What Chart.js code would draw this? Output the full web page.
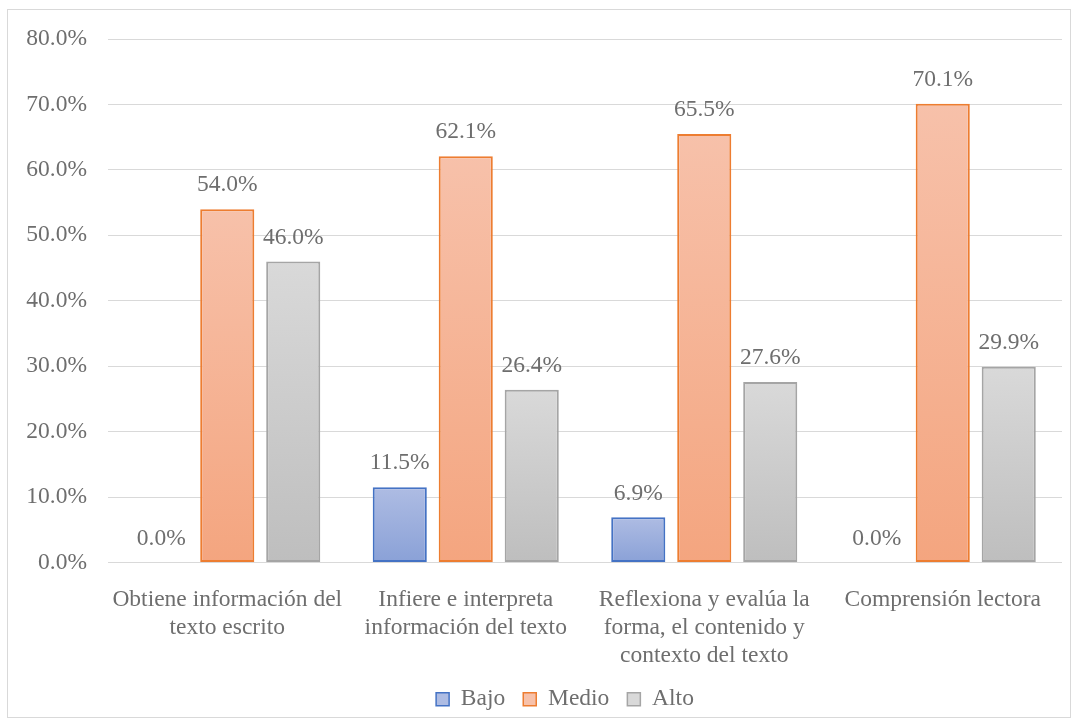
<!DOCTYPE html>
<html>
<head>
<meta charset="utf-8">
<script src="https://cdn.jsdelivr.net/npm/chart.js@4/dist/chart.umd.min.js"></script>
<style>
  html, body { margin: 0; padding: 0; background: #fff; }
  #wrap { position: relative; width: 1078px; height: 728px; }
</style>
</head>
<body>
<div id="wrap"><canvas id="nivelesChart" width="1078" height="728"></canvas></div>
<script>
const categories = [
    ['Obtiene información del', 'texto escrito'],
    ['Infiere e interpreta', 'información del texto'],
    ['Reflexiona y evalúa la', 'forma, el contenido y', 'contexto del texto'],
    ['Comprensión lectora']
]
const bajo = [0.0, 11.5, 6.9, 0.0]
const medio = [54.0, 62.1, 65.5, 70.1]
const alto = [46.0, 26.4, 27.6, 29.9]
const yTicks = [0, 10, 20, 30, 40, 50, 60, 70, 80]

const textGrey = '#6E6E6E'
const fontFamily = '"Liberation Serif", "Times New Roman", serif'
const fontSize = 23.5

// top / bottom of the gradient and the outline for each series
const palette = {
    Bajo: { top: '#AEBCE3', bottom: '#8AA1D7', border: '#4472C4' },
    Medio: { top: '#F7C1AA', bottom: '#F4A57F', border: '#ED7D31' },
    Alto: { top: '#D9D9D9', bottom: '#BEBEBE', border: '#A5A5A5' }
}

function barGradient(colors) {
    return function(context) {
        const chart = context.chart;
        const { ctx, chartArea, scales } = chart;
        if (!chartArea || context.raw === undefined) return colors.bottom;
        const top = scales.y.getPixelForValue(context.raw);
        const bottom = scales.y.getPixelForValue(0);
        if (bottom - top < 1) return colors.bottom;
        const g = ctx.createLinearGradient(0, top, 0, bottom);
        g.addColorStop(0, colors.top);
        g.addColorStop(1, colors.bottom);
        return g;
    }
}

function makeDataset(label, data) {
    const c = palette[label];
    return {
        label: label,
        data: data,
        backgroundColor: barGradient(c),
        borderColor: c.border,
        borderWidth: 2,
        borderSkipped: false,
        categoryPercentage: 0.83,
        barPercentage: 0.82
    }
}

// light frame round the whole chart
const framePlugin = {
    id: 'frame',
    beforeDraw(chart) {
        const ctx = chart.ctx;
        ctx.save();
        ctx.fillStyle = '#fff';
        ctx.fillRect(0, 0, chart.width, chart.height);
        ctx.strokeStyle = '#D9D9D9';
        ctx.lineWidth = 1;
        ctx.strokeRect(7.5, 9.5, 1063, 708);
        ctx.restore();
    }
}

// nudge the legend a bit to the right
const legendShift = {
    id: 'legendShift',
    afterLayout(chart) {
        if (chart.legend) {
            chart.legend.left += 34;
            chart.legend.right += 34;
        }
    }
}

// value labels above every bar
const valueLabels = {
    id: 'valueLabels',
    afterDatasetsDraw(chart) {
        const ctx = chart.ctx;
        ctx.save();
        ctx.font = fontSize + 'px ' + fontFamily;
        ctx.fillStyle = textGrey;
        ctx.textAlign = 'center';
        ctx.textBaseline = 'middle';
        chart.data.datasets.forEach((ds, i) => {
            const meta = chart.getDatasetMeta(i);
            meta.data.forEach((bar, j) => {
                ctx.fillText(ds.data[j].toFixed(1) + '%', bar.x, bar.y - 24);
            });
        });
        ctx.restore();
    }
}

const ctx = document.getElementById('nivelesChart').getContext('2d');

new Chart(ctx, {
    type: 'bar',
    data: {
        labels: categories,
        datasets: [
            makeDataset('Bajo', bajo),
            makeDataset('Medio', medio),
            makeDataset('Alto', alto)
        ]
    },
    options: {
        responsive: false,
        animation: false,
        layout: {
            padding: { top: 39, left: 0, right: 16, bottom: 7 }
        },
        scales: {
            x: {
                grid: { display: false },
                border: { display: false },
                ticks: {
                    color: textGrey,
                    font: { family: fontFamily, size: fontSize, lineHeight: 1.19 },
                    padding: 15,
                    maxRotation: 0,
                    autoSkip: false
                },
                afterFit(scale) { scale.height = 107; }
            },
            y: {
                min: 0,
                max: 80,
                afterBuildTicks(scale) {
                    scale.ticks = yTicks.map(v => ({ value: v }));
                },
                grid: { color: '#D9D9D9', lineWidth: 1, drawTicks: false },
                border: { display: false },
                ticks: {
                    color: textGrey,
                    font: { family: fontFamily, size: fontSize },
                    padding: 21,
                    callback: v => v.toFixed(1) + '%'
                },
                afterFit(scale) { scale.width = 108; }
            }
        },
        plugins: {
            tooltip: { enabled: false },
            legend: {
                display: true,
                position: 'bottom',
                labels: {
                    color: textGrey,
                    font: { family: fontFamily, size: fontSize },
                    boxWidth: 13,
                    boxHeight: 13,
                    padding: 18,
                    generateLabels(chart) {
                        return chart.data.datasets.map((ds, i) => {
                            const c = palette[ds.label];
                            return {
                                text: ds.label,
                                fillStyle: c.top,
                                strokeStyle: c.border,
                                lineWidth: 1.5,
                                fontColor: textGrey,
                                datasetIndex: i
                            }
                        });
                    }
                }
            }
        }
    },
    plugins: [framePlugin, legendShift, valueLabels]
});
</script>
</body>
</html>
